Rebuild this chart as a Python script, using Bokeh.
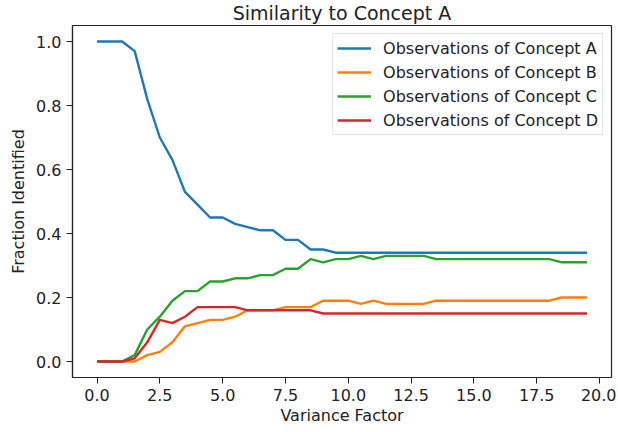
from bokeh.plotting import figure
from bokeh.models import FixedTicker, Legend, LegendItem, Range1d, NumeralTickFormatter
from bokeh.embed import file_html
from bokeh.resources import INLINE

variance = [0.0, 0.5, 1.0, 1.5, 2.0, 2.5, 3.0, 3.5, 4.0, 4.5,
            5.0, 5.5, 6.0, 6.5, 7.0, 7.5, 8.0, 8.5, 9.0, 9.5,
            10.0, 10.5, 11.0, 11.5, 12.0, 12.5, 13.0, 13.5, 14.0, 14.5,
            15.0, 15.5, 16.0, 16.5, 17.0, 17.5, 18.0, 18.5, 19.0, 19.5]

concept_a = [1.0, 1.0, 1.0, 0.97, 0.82, 0.70, 0.63, 0.53, 0.49, 0.45,
             0.45, 0.43, 0.42, 0.41, 0.41, 0.38, 0.38, 0.35, 0.35, 0.34,
             0.34, 0.34, 0.34, 0.34, 0.34, 0.34, 0.34, 0.34, 0.34, 0.34,
             0.34, 0.34, 0.34, 0.34, 0.34, 0.34, 0.34, 0.34, 0.34, 0.34]
concept_b = [0.0, 0.0, 0.0, 0.0, 0.02, 0.03, 0.06, 0.11, 0.12, 0.13,
             0.13, 0.14, 0.16, 0.16, 0.16, 0.17, 0.17, 0.17, 0.19, 0.19,
             0.19, 0.18, 0.19, 0.18, 0.18, 0.18, 0.18, 0.19, 0.19, 0.19,
             0.19, 0.19, 0.19, 0.19, 0.19, 0.19, 0.19, 0.20, 0.20, 0.20]
concept_c = [0.0, 0.0, 0.0, 0.02, 0.10, 0.14, 0.19, 0.22, 0.22, 0.25,
             0.25, 0.26, 0.26, 0.27, 0.27, 0.29, 0.29, 0.32, 0.31, 0.32,
             0.32, 0.33, 0.32, 0.33, 0.33, 0.33, 0.33, 0.32, 0.32, 0.32,
             0.32, 0.32, 0.32, 0.32, 0.32, 0.32, 0.32, 0.31, 0.31, 0.31]
concept_d = [0.0, 0.0, 0.0, 0.01, 0.06, 0.13, 0.12, 0.14, 0.17, 0.17,
             0.17, 0.17, 0.16, 0.16, 0.16, 0.16, 0.16, 0.16, 0.15, 0.15,
             0.15, 0.15, 0.15, 0.15, 0.15, 0.15, 0.15, 0.15, 0.15, 0.15,
             0.15, 0.15, 0.15, 0.15, 0.15, 0.15, 0.15, 0.15, 0.15, 0.15]

series_labels = ["Observations of Concept A", "Observations of Concept B",
                 "Observations of Concept C", "Observations of Concept D"]
series_colors = ["#1f77b4", "#ff7f0e", "#2ca02c", "#d62728"]

x_ticks = [0.0, 2.5, 5.0, 7.5, 10.0, 12.5, 15.0, 17.5, 20.0]
y_ticks = [0.0, 0.2, 0.4, 0.6, 0.8, 1.0]

title_text = "Similarity to Concept A"
x_label = "Variance Factor"
y_label = "Fraction Identified"

FONT = "DejaVu Sans"

p = figure(width=616, height=430, output_backend="svg", toolbar_location=None,
           x_range=Range1d(-0.975, 20.475), y_range=Range1d(-0.05, 1.05),
           min_border_left=72, min_border_right=5, min_border_top=25, min_border_bottom=53)

p.title.text = title_text
p.title.align = "center"
p.title.vertical_align = "top"
p.title.text_font = FONT
p.title.text_font_size = "19px"
p.title.text_font_style = "normal"
p.title.text_color = "#222222"
p.title.text_line_height = 0.5
p.title.standoff = 0
p.title.offset = 0

p.xgrid.visible = False
p.ygrid.visible = False
p.outline_line_color = "#222222"
p.outline_line_width = 1.2
p.background_fill_color = "white"
p.border_fill_color = "white"

items = []
for ys, lab, col in zip([concept_a, concept_b, concept_c, concept_d], series_labels, series_colors):
    r = p.line(variance, ys, line_color=col, line_width=2.4)
    items.append(LegendItem(label=lab, renderers=[r]))

legend = Legend(items=items, location="top_right")
legend.margin = 8
legend.padding = 4
legend.spacing = 4
legend.label_height = 20
legend.glyph_height = 20
legend.glyph_width = 34
legend.label_standoff = 12
legend.label_text_font = FONT
legend.label_text_font_size = "16px"
legend.label_text_color = "#222222"
legend.border_line_color = "#cccccc"
legend.border_line_width = 1
legend.background_fill_alpha = 0.8
p.add_layout(legend)

for ax in [p.xaxis[0], p.yaxis[0]]:
    ax.axis_line_color = "#222222"
    ax.axis_line_width = 1.2
    ax.major_tick_line_color = "#222222"
    ax.major_tick_out = 6
    ax.major_tick_in = 0
    ax.minor_tick_line_color = None
    ax.major_label_text_font = FONT
    ax.major_label_text_font_size = "16px"
    ax.major_label_text_color = "#222222"
    ax.axis_label_text_font = FONT
    ax.axis_label_text_font_size = "16px"
    ax.axis_label_text_font_style = "normal"
    ax.axis_label_text_color = "#222222"
    ax.formatter = NumeralTickFormatter(format="0.0")
    ax.major_label_standoff = 5
    ax.axis_label_standoff = 5

p.xaxis[0].axis_label_standoff = 2
p.xaxis[0].ticker = FixedTicker(ticks=x_ticks)
p.yaxis[0].ticker = FixedTicker(ticks=y_ticks)
p.xaxis[0].axis_label = x_label
p.yaxis[0].axis_label = y_label

open("out.html", "w").write(file_html(p, INLINE))
